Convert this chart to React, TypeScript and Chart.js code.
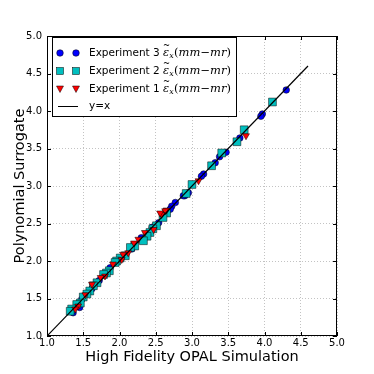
import React, { useEffect, useRef } from "react";
import { Chart, registerables } from "chart.js";

Chart.register(...registerables);

const exp3X = [4.3, 3.97, 3.95, 3.66, 3.47, 3.38, 3.32, 3.16, 3.13, 2.95, 2.9, 2.88, 2.77, 2.72, 2.7, 2.54, 2.45, 2.3, 2.17, 1.87, 1.72, 1.62, 1.48, 1.45, 1.36];
const exp3Y = [4.28, 3.96, 3.93, 3.64, 3.45, 3.39, 3.31, 3.16, 3.13, 2.91, 2.87, 2.87, 2.78, 2.73, 2.69, 2.51, 2.45, 2.31, 2.16, 1.91, 1.74, 1.63, 1.49, 1.38, 1.31];

const exp2X = [4.11, 3.72, 3.62, 3.41, 3.27, 3.0, 2.92, 2.65, 2.6, 2.51, 2.46, 2.42, 2.38, 2.33, 2.21, 2.15, 2.08, 2.01, 1.96, 1.94, 1.86, 1.82, 1.78, 1.69, 1.64, 1.59, 1.55, 1.5, 1.46, 1.41, 1.34, 1.32];
const exp2Y = [4.12, 3.75, 3.59, 3.44, 3.27, 3.02, 2.9, 2.64, 2.58, 2.47, 2.43, 2.38, 2.33, 2.27, 2.2, 2.18, 2.07, 2.04, 2.0, 1.98, 1.87, 1.84, 1.82, 1.71, 1.67, 1.6, 1.56, 1.52, 1.44, 1.42, 1.36, 1.33];

const exp1X = [3.745, 3.09, 2.65, 2.63, 2.58, 2.56, 2.47, 2.35, 2.26, 2.2, 2.12, 2.05, 2.03, 1.91, 1.8, 1.74, 1.62, 1.53, 1.43, 1.39];
const exp1Y = [3.67, 3.07, 2.68, 2.67, 2.62, 2.64, 2.42, 2.38, 2.29, 2.24, 2.11, 2.09, 2.02, 1.96, 1.8, 1.78, 1.69, 1.55, 1.4, 1.36];

const lineX = [1.0, 4.6];
const lineY = [1.0, 4.6];

const tickValues = [1.0, 1.5, 2.0, 2.5, 3.0, 3.5, 4.0, 4.5, 5.0];
const legendLabels = ["Experiment 3", "Experiment 2", "Experiment 1", "y=x"];
const xTitle = "High Fidelity OPAL Simulation";
const yTitle = "Polynomial Surrogate";

const zip = (xs: number[], ys: number[]) => xs.map((x, i) => ({ x, y: ys[i] }));

const BLUE = "#0000ff";
const CYAN = "#00bfbf";
const RED = "#ff0000";

function drawMath(ctx: CanvasRenderingContext2D, x0: number, y: number, k: number, doDraw: boolean) {
  let x = x0;
  const put = (t: string, font: string, dy: number) => {
    ctx.font = font;
    if (doDraw) ctx.fillText(t, x, y + dy);
    const w = ctx.measureText(t).width;
    x += w;
    return w;
  };
  const ex = x;
  const ew = put("\u03b5", `italic ${11 * k}px 'DejaVu Serif'`, 0);
  if (doDraw) {
    ctx.font = `${8 * k}px 'DejaVu Serif'`;
    ctx.textAlign = "center";
    ctx.fillText("~", ex + ew / 2 + 0.5, y - 6.5 * k);
    ctx.textAlign = "left";
  }
  put("x", `italic ${7.5 * k}px 'DejaVu Serif'`, 3 * k);
  x += 0.5;
  put("(", `${11 * k}px 'DejaVu Serif'`, 0);
  put("mm", `italic ${11 * k}px 'DejaVu Serif'`, 0);
  put("\u2212", `${11 * k}px 'DejaVu Serif'`, 0);
  put("mr", `italic ${11 * k}px 'DejaVu Serif'`, 0);
  put(")", `${11 * k}px 'DejaVu Serif'`, 0);
  return x - x0;
}

const decorPlugin = {
  id: "decor",
  afterDraw(chart: any) {
    const ctx = chart.ctx as CanvasRenderingContext2D;
    const { left, right, top, bottom } = chart.chartArea;
    const xs = chart.scales.x;
    const ys = chart.scales.y;
    ctx.save();
    ctx.strokeStyle = "#000";
    ctx.lineWidth = 1;
    ctx.setLineDash([]);
    ctx.strokeRect(left + 0.5, top + 0.5, right - left - 1, bottom - top - 1);
    tickValues.forEach((v) => {
      const px = Math.round(xs.getPixelForValue(v)) + 0.5;
      const py = Math.round(ys.getPixelForValue(v)) + 0.5;
      ctx.beginPath();
      ctx.moveTo(px, bottom);
      ctx.lineTo(px, bottom - 4);
      ctx.moveTo(px, top);
      ctx.lineTo(px, top + 4);
      ctx.moveTo(left, py);
      ctx.lineTo(left + 4, py);
      ctx.moveTo(right, py);
      ctx.lineTo(right - 4, py);
      ctx.stroke();
    });
    ctx.fillStyle = "#000";
    ctx.font = "14.5px 'DejaVu Sans'";
    ctx.textAlign = "center";
    ctx.textBaseline = "middle";
    ctx.fillText(xTitle, (left + right) / 2, 357);
    ctx.save();
    ctx.translate(20, (top + bottom) / 2);
    ctx.rotate(-Math.PI / 2);
    ctx.fillText(yTitle, 0, 0);
    ctx.restore();

    const bx = 52.5, by = 37.5, bw = 184, bh = 79;
    ctx.fillStyle = "#fff";
    ctx.fillRect(bx, by, bw, bh);
    ctx.strokeStyle = "#000";
    ctx.lineWidth = 1;
    ctx.strokeRect(bx, by, bw, bh);
    const rows = [53, 71, 89, 106];
    const mk = [60, 76];
    const textX = 89;
    const drawMarker = (kind: number, x: number, y: number) => {
      ctx.lineWidth = 0.5;
      ctx.strokeStyle = "#000";
      if (kind === 0) {
        ctx.fillStyle = BLUE;
        ctx.beginPath();
        ctx.arc(x, y, 3.3, 0, Math.PI * 2);
        ctx.fill();
        ctx.stroke();
      } else if (kind === 1) {
        ctx.fillStyle = CYAN;
        ctx.fillRect(x - 3.5, y - 3.5, 7, 7);
        ctx.strokeRect(x - 3.5, y - 3.5, 7, 7);
      } else {
        ctx.fillStyle = RED;
        ctx.beginPath();
        ctx.moveTo(x - 3.5, y - 3);
        ctx.lineTo(x + 3.5, y - 3);
        ctx.lineTo(x, y + 3.5);
        ctx.closePath();
        ctx.fill();
        ctx.stroke();
      }
    };
    for (let i = 0; i < 4; i++) {
      const y = rows[i];
      if (i < 3) {
        mk.forEach((x) => drawMarker(i, x, y));
      } else {
        ctx.strokeStyle = "#000";
        ctx.lineWidth = 1;
        ctx.beginPath();
        ctx.moveTo(mk[0] - 2, y + 0.5);
        ctx.lineTo(mk[1] + 2, y + 0.5);
        ctx.stroke();
      }
      ctx.fillStyle = "#000";
      ctx.textAlign = "left";
      ctx.textBaseline = "middle";
      ctx.font = "10.5px 'DejaVu Sans'";
      ctx.fillText(legendLabels[i], textX, y);
      if (i < 3) {
        const start = textX + ctx.measureText(legendLabels[i] + " ").width;
        const w0 = drawMath(ctx, 0, 0, 1, false);
        const k = (231 - start) / w0;
        drawMath(ctx, start, y, Math.min(1.2, k), true);
      }
    }
    ctx.restore();
  },
};

export default function App() {
  const ref = useRef<HTMLCanvasElement | null>(null);
  useEffect(() => {
    document.body.style.margin = "0";
    if (!ref.current) return;
    const chart = new Chart(ref.current, {
      type: "scatter",
      data: {
        datasets: [
          {
            label: "y=x",
            type: "line",
            data: zip(lineX, lineY),
            borderColor: "#000",
            borderWidth: 1.2,
            pointRadius: 0,
            fill: false,
            order: 0,
          } as any,
          {
            label: "Experiment 1",
            data: zip(exp1X, exp1Y),
            pointStyle: "triangle",
            rotation: 180,
            pointRadius: 4,
            backgroundColor: RED,
            borderColor: "#000",
            borderWidth: 0.5,
            order: 1,
          },
          {
            label: "Experiment 2",
            data: zip(exp2X, exp2Y),
            pointStyle: "rect",
            pointRadius: 5.5,
            backgroundColor: CYAN,
            borderColor: "#000",
            borderWidth: 0.5,
            order: 2,
          },
          {
            label: "Experiment 3",
            data: zip(exp3X, exp3Y),
            pointStyle: "circle",
            pointRadius: 3.3,
            backgroundColor: BLUE,
            borderColor: "#000",
            borderWidth: 0.5,
            order: 3,
          },
        ],
      },
      options: {
        animation: false,
        responsive: true,
        maintainAspectRatio: false,
        layout: { padding: { top: 36, right: 37, left: 0, bottom: 0 } },
        plugins: { legend: { display: false }, tooltip: { enabled: false } },
        scales: {
          x: {
            type: "linear",
            min: 1,
            max: 5,
            afterFit: (s: any) => {
              s.height = 38;
            },
            ticks: {
              stepSize: 0.5,
              color: "#000",
              font: { family: "'DejaVu Sans'", size: 10 },
              padding: 1,
              maxRotation: 0,
              callback: (v: any) => Number(v).toFixed(1),
            },
            grid: { color: "rgba(0,0,0,0.4)", lineWidth: 0.6, drawTicks: false },
            border: { display: false, dash: [1, 2] },
          },
          y: {
            type: "linear",
            min: 1,
            max: 5,
            afterFit: (s: any) => {
              s.width = 47;
            },
            ticks: {
              stepSize: 0.5,
              color: "#000",
              font: { family: "'DejaVu Sans'", size: 10 },
              padding: 5,
              callback: (v: any) => Number(v).toFixed(1),
            },
            grid: { color: "rgba(0,0,0,0.4)", lineWidth: 0.6, drawTicks: false },
            border: { display: false, dash: [1, 2] },
          },
        },
      },
      plugins: [decorPlugin],
    });
    return () => chart.destroy();
  }, []);
  return (
    <div style={{ width: 374, height: 374, position: "relative" }}>
      <canvas ref={ref} />
    </div>
  );
}
